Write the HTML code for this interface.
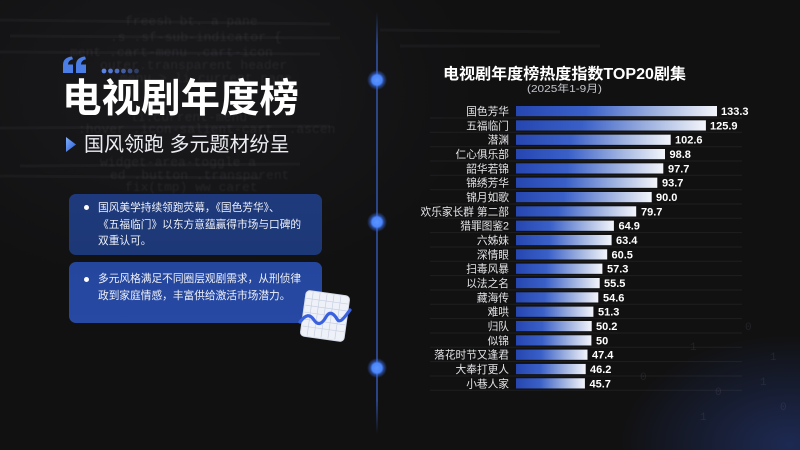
<!DOCTYPE html>
<html><head><meta charset="utf-8"><style>
html,body{margin:0;padding:0;}
body{width:800px;height:450px;overflow:hidden;background:#111112;position:relative;font-family:"Liberation Sans","Noto Sans CJK SC",sans-serif;}
.abs{position:absolute;}
.code{position:absolute;font-family:"Liberation Mono",monospace;color:rgba(200,200,210,0.09);font-size:13px;white-space:nowrap;filter:blur(0.9px);}
.card{position:absolute;left:69px;width:253px;height:61px;border-radius:7px;}
.ct{position:absolute;left:29px;top:6px;font-size:10.7px;line-height:16.5px;color:#eef1f8;white-space:nowrap;font-family:"Liberation Sans","Noto Sans CJK SC",sans-serif;}
.bul{position:absolute;left:15px;width:5px;height:5px;border-radius:50%;background:#fff;}
</style></head><body>
<!-- background texture -->
<div class="abs" style="left:0;top:0;width:800px;height:450px;background:radial-gradient(ellipse 170px 110px at 790px 445px,rgba(45,75,170,0.42),rgba(20,30,60,0) 100%),radial-gradient(ellipse 300px 200px at 180px 90px,rgba(60,60,70,0.22),rgba(0,0,0,0) 100%);"></div>
<svg class="abs" style="left:0;top:0" width="800" height="450">
  <g stroke="rgba(160,160,170,0.06)" stroke-width="3">
    <line x1="0" y1="20" x2="330" y2="24"/><line x1="10" y1="36" x2="340" y2="38"/>
    <line x1="0" y1="52" x2="320" y2="54"/><line x1="0" y1="128" x2="330" y2="126"/>
    <line x1="20" y1="166" x2="300" y2="164"/><line x1="0" y1="176" x2="260" y2="178"/>
    <line x1="380" y1="30" x2="560" y2="32"/><line x1="400" y1="46" x2="600" y2="46"/>
  </g>
  <g font-family="Liberation Mono, monospace" font-size="11" fill="rgba(180,190,220,0.1)">
    <text x="690" y="350">1</text><text x="745" y="330">0</text><text x="770" y="360">1</text>
    <text x="715" y="395">0</text><text x="780" y="410">0</text><text x="640" y="380">0</text>
    <text x="760" y="385">1</text><text x="700" y="420">1</text>
  </g>
</svg>
<div class="code" style="left:125px;top:14px;">freesh bt. a pane</div>
<div class="code" style="left:110px;top:30px;">.s .sf-sub-indicator {</div>
<div class="code" style="left:70px;top:45px;">ment .cart-menu .cart-icon</div>
<div class="code" style="left:100px;top:58px;">outer.transparent header</div>
<div class="code" style="left:120px;top:71px;">menu &gt; li.current page</div>
<div class="code" style="left:130px;top:110px;">li.current-menu</div>
<div class="code" style="left:78px;top:122px;">:hover .icon-salient-cart, .ascen</div>
<div class="code" style="left:100px;top:155px;">widget-area-toggle a</div>
<div class="code" style="left:110px;top:168px;">ed .button .transparent</div>
<div class="code" style="left:125px;top:180px;">fix(tmp) ww caret</div>

<!-- quote + dots -->
<svg class="abs" style="left:62px;top:56px" width="28" height="18">
  <g fill="#4a7ee6">
    <path d="M1,17 L1,9 C1,4 4,1 10,0.5 L11,3.2 C7.5,4 6.2,5.8 6,8.5 L11,8.5 L11,17 Z"/>
    <path d="M14,17 L14,9 C14,4 17,1 23,0.5 L24,3.2 C20.5,4 19.2,5.8 19,8.5 L24,8.5 L24,17 Z"/>
  </g>
</svg>
<svg class="abs" style="left:100px;top:66px" width="45" height="10">
  <circle cx="4" cy="5" r="2.4" fill="#5b82e8"/><circle cx="10.5" cy="5" r="2.4" fill="#5b82e8" fill-opacity="0.9"/>
  <circle cx="17" cy="5" r="2.4" fill="#5b82e8" fill-opacity="0.8"/><circle cx="23.5" cy="5" r="2.4" fill="#5b82e8" fill-opacity="0.65"/>
  <circle cx="30" cy="5" r="2.4" fill="#5b82e8" fill-opacity="0.5"/><circle cx="36.5" cy="5" r="2.4" fill="#5b82e8" fill-opacity="0.35"/>
</svg>
<!-- Title -->
<div class="abs" style="left:62px;top:78px;font-size:39.5px;line-height:42px;font-weight:bold;color:#fff;white-space:nowrap;font-family:'Liberation Sans','Noto Sans CJK SC',sans-serif;">电视剧年度榜</div>
<svg class="abs" style="left:64px;top:136px" width="14" height="18"><defs><linearGradient id="tg" x1="0" y1="0" x2="1" y2="1"><stop offset="0" stop-color="#7fb0ff"/><stop offset="1" stop-color="#2a5ad0"/></linearGradient></defs><polygon points="2,1 12,8.5 2,16" fill="url(#tg)"/></svg>
<div class="abs" style="left:84px;top:132px;font-size:20px;line-height:26px;color:#eceef3;white-space:nowrap;">国风领跑 多元题材纷呈</div>

<!-- cards -->
<div class="card" style="top:194px;background:linear-gradient(180deg,#1f3a7c,#1d3876);">
  <div class="bul" style="top:11px;"></div>
  <div class="ct">国风美学持续领跑荧幕，《国色芳华》、<br>《五福临门》以东方意蕴赢得市场与口碑的<br>双重认可。</div>
</div>
<div class="card" style="top:262px;background:linear-gradient(180deg,#24469c,#2749a4);">
  <div class="bul" style="top:15px;"></div>
  <div class="ct" style="top:9px;">多元风格满足不同圈层观剧需求，从刑侦律<br>政到家庭情感，丰富供给激活市场潜力。</div>
</div>
<!-- chart icon -->
<svg class="abs" style="left:294px;top:284px" width="62" height="64">
  <g transform="rotate(8 31 32)">
    <rect x="9" y="9" width="44" height="46" rx="4" fill="#eef1f8" stroke="#d6dbe8"/>
    <g stroke="#c9d0e2" stroke-width="0.7">
      <line x1="16" y1="10" x2="16" y2="54"/><line x1="23" y1="10" x2="23" y2="54"/><line x1="30" y1="10" x2="30" y2="54"/>
      <line x1="37" y1="10" x2="37" y2="54"/><line x1="44" y1="10" x2="44" y2="54"/>
      <line x1="10" y1="17" x2="52" y2="17"/><line x1="10" y1="24" x2="52" y2="24"/><line x1="10" y1="31" x2="52" y2="31"/>
      <line x1="10" y1="38" x2="52" y2="38"/><line x1="10" y1="45" x2="52" y2="45"/>
    </g>
  </g>
  <path d="M6,38 C12,30 16,30 20,36 C24,42 28,40 32,33 C36,26 40,30 43,35 C46,40 50,34 56,26" fill="none" stroke="#3a62e0" stroke-width="3.2" stroke-linecap="round"/>
</svg>

<!-- timeline -->
<svg class="abs" style="left:357px;top:0" width="40" height="450">
  <defs>
    <linearGradient id="lg" x1="0" y1="0" x2="0" y2="1"><stop offset="0" stop-color="#3d6be0" stop-opacity="0"/><stop offset="0.08" stop-color="#3d6be0" stop-opacity="0.8"/><stop offset="0.92" stop-color="#3d6be0" stop-opacity="0.8"/><stop offset="1" stop-color="#3d6be0" stop-opacity="0"/></linearGradient>
    <radialGradient id="dg"><stop offset="0" stop-color="#5c96ff"/><stop offset="0.5" stop-color="#4a86fa"/><stop offset="0.7" stop-color="#3a6ef0" stop-opacity="0.5"/><stop offset="1" stop-color="#3a6ef0" stop-opacity="0"/></radialGradient>
  </defs>
  <rect x="19.3" y="12" width="1.4" height="422" fill="url(#lg)"/>
  <circle cx="20" cy="80" r="10" fill="url(#dg)"/>
  <circle cx="20" cy="222" r="10" fill="url(#dg)"/>
  <circle cx="20" cy="368" r="10" fill="url(#dg)"/>
</svg>

<!-- chart -->
<svg class="abs" style="left:0;top:0" width="800" height="450" font-family="Liberation Sans, Noto Sans CJK SC, sans-serif">
  <defs>
    <linearGradient id="bg" x1="0" y1="0" x2="1" y2="0"><stop offset="0" stop-color="#2646b0"/><stop offset="0.35" stop-color="#3a60c8"/><stop offset="0.7" stop-color="#9fb2e0"/><stop offset="1" stop-color="#f3f5fa"/></linearGradient>
  </defs>
  <text x="564.5" y="79" text-anchor="middle" font-size="15.5" font-weight="bold" fill="#fff" textLength="243" lengthAdjust="spacingAndGlyphs">电视剧年度榜热度指数TOP20剧集</text>
  <text x="564.5" y="92" text-anchor="middle" font-size="10" fill="#c4c6cc" textLength="75" lengthAdjust="spacingAndGlyphs">(2025年1-9月)</text>
  <g stroke="rgba(255,255,255,0.06)" stroke-width="1">
    <line x1="430" y1="118" x2="742" y2="118"/><line x1="430" y1="132.3" x2="742" y2="132.3"/><line x1="430" y1="146.7" x2="742" y2="146.7"/>
    <line x1="430" y1="161" x2="742" y2="161"/><line x1="430" y1="175.3" x2="742" y2="175.3"/><line x1="430" y1="189.7" x2="742" y2="189.7"/>
    <line x1="430" y1="204" x2="742" y2="204"/><line x1="430" y1="218.3" x2="742" y2="218.3"/><line x1="430" y1="232.6" x2="742" y2="232.6"/>
    <line x1="430" y1="247" x2="742" y2="247"/><line x1="430" y1="261.3" x2="742" y2="261.3"/><line x1="430" y1="275.6" x2="742" y2="275.6"/>
    <line x1="430" y1="290" x2="742" y2="290"/><line x1="430" y1="304.3" x2="742" y2="304.3"/><line x1="430" y1="318.6" x2="742" y2="318.6"/>
    <line x1="430" y1="333" x2="742" y2="333"/><line x1="430" y1="347.3" x2="742" y2="347.3"/><line x1="430" y1="361.6" x2="742" y2="361.6"/>
    <line x1="430" y1="376" x2="742" y2="376"/><line x1="430" y1="390.3" x2="742" y2="390.3"/>
  </g>
  <g fill="url(#bg)">
    <rect x="516" y="106" width="201" height="10.2"/>
    <rect x="516" y="120.33" width="189.9" height="10.2"/>
    <rect x="516" y="134.66" width="154.7" height="10.2"/>
    <rect x="516" y="149" width="149" height="10.2"/>
    <rect x="516" y="163.32" width="147.3" height="10.2"/>
    <rect x="516" y="177.65" width="141.3" height="10.2"/>
    <rect x="516" y="192" width="135.7" height="10.2"/>
    <rect x="516" y="206.3" width="120.2" height="10.2"/>
    <rect x="516" y="220.64" width="97.9" height="10.2"/>
    <rect x="516" y="235" width="95.6" height="10.2"/>
    <rect x="516" y="249.3" width="91.2" height="10.2"/>
    <rect x="516" y="263.63" width="86.4" height="10.2"/>
    <rect x="516" y="278" width="83.7" height="10.2"/>
    <rect x="516" y="292.3" width="82.3" height="10.2"/>
    <rect x="516" y="306.62" width="77.4" height="10.2"/>
    <rect x="516" y="321" width="75.7" height="10.2"/>
    <rect x="516" y="335.28" width="75.4" height="10.2"/>
    <rect x="516" y="349.6" width="71.5" height="10.2"/>
    <rect x="516" y="363.94" width="69.7" height="10.2"/>
    <rect x="516" y="378.27" width="68.9" height="10.2"/>
  </g>
  <g font-size="10.7" fill="#e4e5e8" text-anchor="end">
    <text x="509" y="115">国色芳华</text>
    <text x="509" y="129.3">五福临门</text>
    <text x="509" y="143.7">潜渊</text>
    <text x="509" y="158">仁心俱乐部</text>
    <text x="509" y="172.3">韶华若锦</text>
    <text x="509" y="186.7">锦绣芳华</text>
    <text x="509" y="201">锦月如歌</text>
    <text x="509" y="215.3">欢乐家长群 第二部</text>
    <text x="509" y="229.6">猎罪图鉴2</text>
    <text x="509" y="244">六姊妹</text>
    <text x="509" y="258.3">深情眼</text>
    <text x="509" y="272.6">扫毒风暴</text>
    <text x="509" y="287">以法之名</text>
    <text x="509" y="301.3">藏海传</text>
    <text x="509" y="315.6">难哄</text>
    <text x="509" y="330">归队</text>
    <text x="509" y="344.3">似锦</text>
    <text x="509" y="358.6">落花时节又逢君</text>
    <text x="509" y="373">大奉打更人</text>
    <text x="509" y="387.3">小巷人家</text>
  </g>
  <g font-size="11" font-weight="bold" fill="#fff">
    <text x="721" y="115">133.3</text>
    <text x="710" y="129.3">125.9</text>
    <text x="675" y="143.7">102.6</text>
    <text x="669.5" y="158">98.8</text>
    <text x="668" y="172.3">97.7</text>
    <text x="662" y="186.7">93.7</text>
    <text x="656" y="201">90.0</text>
    <text x="641" y="215.3">79.7</text>
    <text x="618.5" y="229.6">64.9</text>
    <text x="616" y="244">63.4</text>
    <text x="611.5" y="258.3">60.5</text>
    <text x="607" y="272.6">57.3</text>
    <text x="604" y="287">55.5</text>
    <text x="603" y="301.3">54.6</text>
    <text x="598" y="315.6">51.3</text>
    <text x="596" y="330">50.2</text>
    <text x="596" y="344.3">50</text>
    <text x="592" y="358.6">47.4</text>
    <text x="590" y="373">46.2</text>
    <text x="589.5" y="387.3">45.7</text>
  </g>
</svg>
</body></html>
